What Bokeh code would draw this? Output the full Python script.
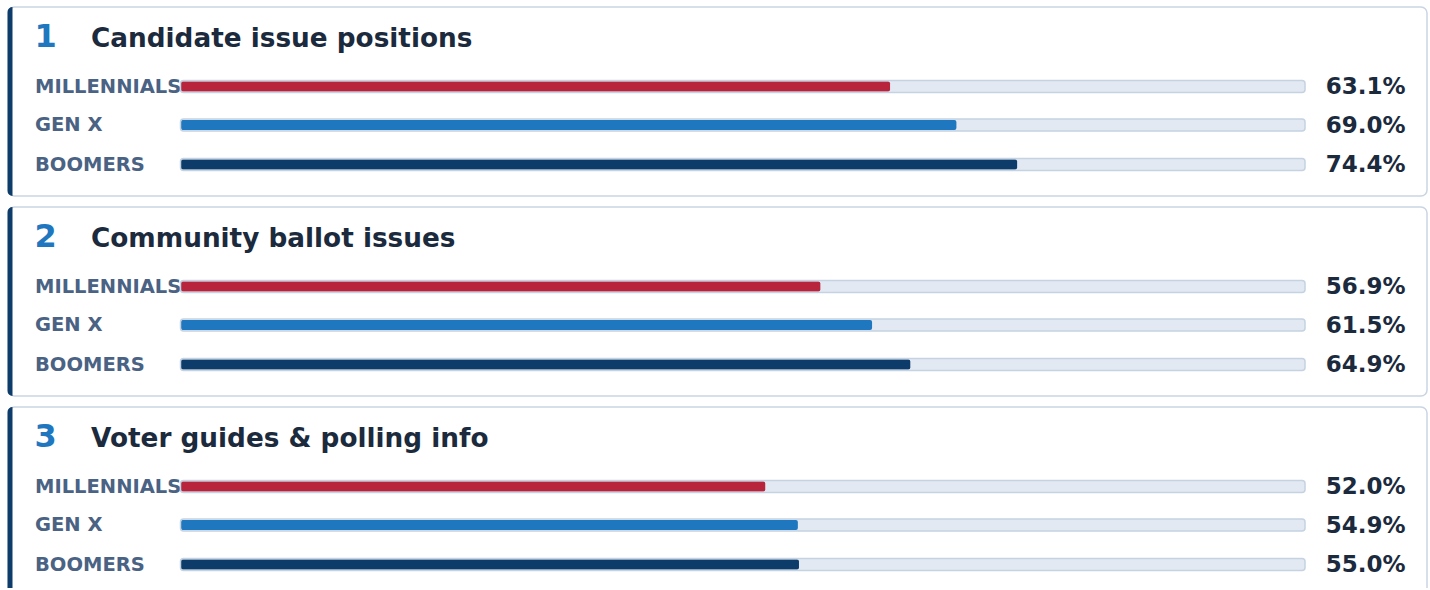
from bokeh.plotting import figure
from bokeh.models import Range1d, ColumnDataSource
from bokeh.embed import file_html
from bokeh.resources import INLINE
from bokeh.core.properties import value

# ---- data ----
topics = ["Candidate issue positions", "Community ballot issues", "Voter guides & polling info"]
ranks = ["1", "2", "3"]
generations = ["MILLENNIALS", "GEN X", "BOOMERS"]
millennials = [63.1, 56.9, 52.0]
gen_x = [69.0, 61.5, 54.9]
boomers = [74.4, 64.9, 55.0]
gen_colors = ["#b8243b", "#1f77c0", "#0d3c6b"]

# ---- layout (figure pixels) ----
W, H = 1428, 588
TRACK_L, TRACK_R = 180, 1304.5
scale = (TRACK_R - TRACK_L) / 100.0
xmin = -TRACK_L / scale
xmax = xmin + W / scale


def X(sx):
    return xmin + sx / scale


CARD_H = 189
CARD_GAP = 200
card_tops = [6.5 + CARD_GAP * i for i in range(len(topics))]
ROW_OFF = [79.5, 118, 157.5]

p = figure(width=W, height=H, x_range=Range1d(xmin, xmax), y_range=Range1d(H, 0),
           output_backend="svg", toolbar_location=None, x_axis_type=None, y_axis_type=None,
           min_border=0)
p.grid.visible = False
p.outline_line_color = None
p.background_fill_color = "white"
p.border_fill_color = "white"

# cards
cards = ColumnDataSource(dict(
    top=card_tops,
    bottom=[t + CARD_H for t in card_tops],
))
p.quad(left=X(8), right=X(1426.5), top="top", bottom="bottom", source=cards,
       fill_color="white", line_color="#c9d5e3", line_width=1.5, border_radius=6)
p.quad(left=X(7), right=X(12), top="top", bottom="bottom", source=cards,
       fill_color="#0d3c6b", line_color=None, border_radius=(5, 0, 0, 5))

# titles
titles = ColumnDataSource(dict(
    ry=[t + 28.5 for t in card_tops],
    ty=[t + 31 for t in card_tops],
    rank=ranks,
    topic=topics,
))
p.text(x=X(34), y="ry", text="rank", source=titles, text_font=value("DejaVu Sans"),
       text_font_style="bold", text_font_size="32px", text_color="#1f77c0",
       text_baseline="middle", text_align="left")
p.text(x=X(90.5), y="ty", text="topic", source=titles, text_font=value("DejaVu Sans"),
       text_font_style="bold", text_font_size="26.3px", text_color="#1b2a3c",
       text_baseline="middle", text_align="left")

# rows
series = [millennials, gen_x, boomers]
ys, vals, cols, labs, vtxt = [], [], [], [], []
for i, t in enumerate(card_tops):
    for j, g in enumerate(generations):
        ys.append(t + ROW_OFF[j])
        v = series[j][i]
        vals.append(v)
        cols.append(gen_colors[j])
        labs.append(g)
        vtxt.append(f"{v:.1f}%")
rows = ColumnDataSource(dict(y=ys, val=vals, color=cols, label=labs, vtext=vtxt,
                             ly=[y - 0.5 for y in ys]))

p.text(x=X(34.5), y="ly", text="label", source=rows, text_font=value("DejaVu Sans"),
       text_font_style="bold", text_font_size="19.5px", text_color="#4a6283",
       text_baseline="middle", text_align="left")

p.hbar(y="y", left=0, right=100, height=12, source=rows, fill_color="#e2e9f2",
       line_color=None, border_radius=3)
p.hbar(y="y", left=0, right="val", height=10, source=rows, fill_color="color",
       line_color=None, border_radius=2)
p.hbar(y="y", left=0, right=100, height=12, source=rows, fill_color=None,
       line_color="#c5d2e1", line_width=1.5, border_radius=3)

p.text(x=X(1405), y="ly", text="vtext", source=rows, text_font=value("DejaVu Sans"),
       text_font_style="bold", text_font_size="23px", text_color="#1b2a3c",
       text_baseline="middle", text_align="right")

open("out.html", "w").write(file_html(p, INLINE))
